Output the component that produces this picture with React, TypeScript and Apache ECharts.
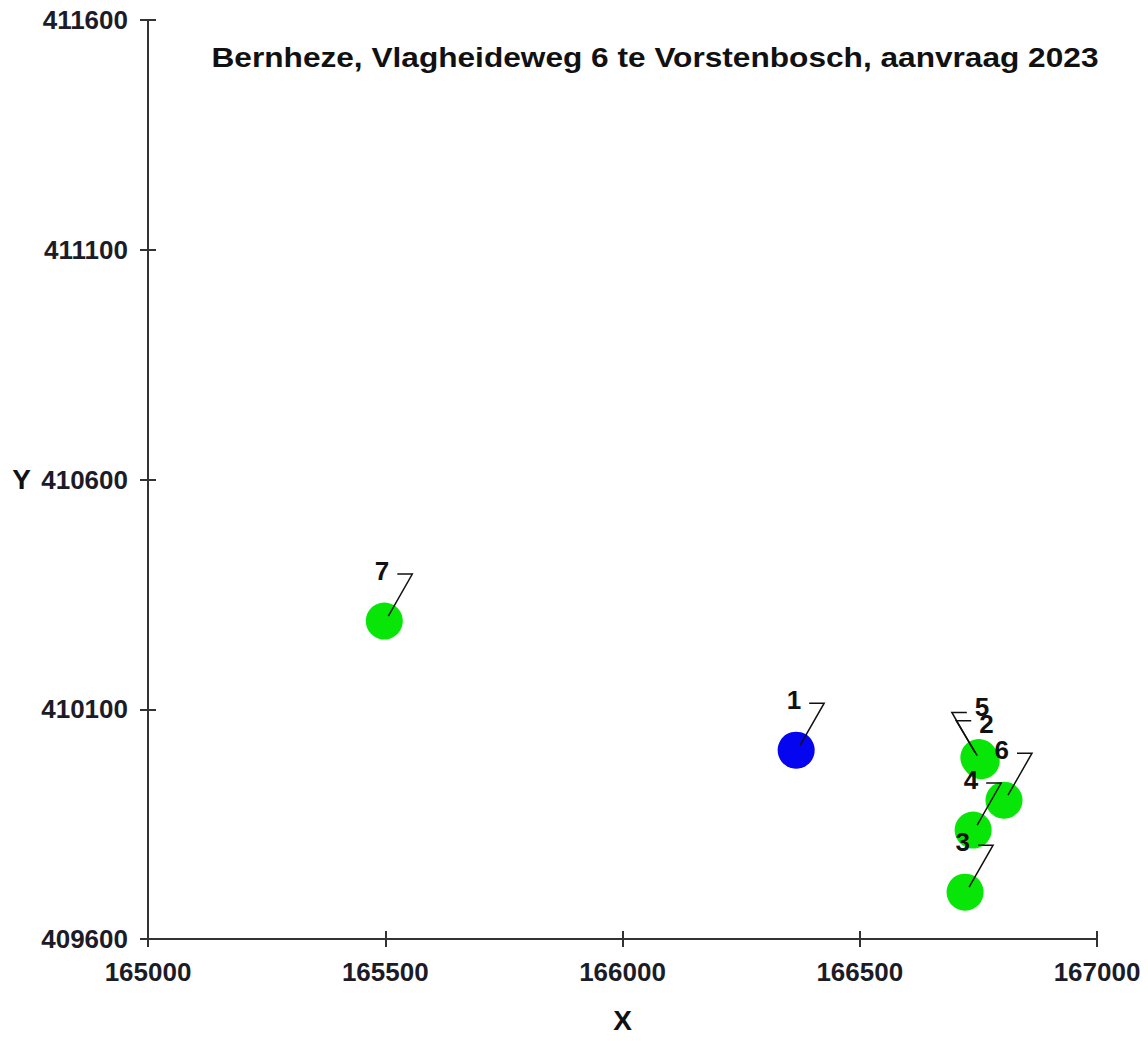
import React, { useEffect, useRef } from "react";
import * as echarts from "echarts";

const titleText = "Bernheze, Vlagheideweg 6 te Vorstenbosch, aanvraag 2023";
const pointIds = ["1", "2", "3", "4", "5", "6", "7"];
const xValues = [166366, 166756, 166722, 166739, 166751, 166804, 165498];
const yValues = [410011, 409988, 409702, 409837, 409995, 409902, 410292];
const isSource = [true, false, false, false, false, false, false];
const xMin = 165000;
const xMax = 167000;
const yMin = 409600;
const yMax = 411600;
const tickStep = 500;

const FONT = '"Liberation Sans", Arial, sans-serif';

// leader-line styling per label id: elbow dx/dy, horizontal segment end dx, label dy
const leaderStyle: Record<string, { ex: number; ey: number; hx: number; ly: number }> = {
  default: { ex: 28, ey: -47, hx: 13, ly: -50 },
  "5": { ex: -27, ey: -45, hx: -12, ly: -50 },
  "2": { ex: -25, ey: -40, hx: -10, ly: -37 },
};

export default function App() {
  const ref = useRef<HTMLDivElement>(null);
  useEffect(() => {
    document.body.style.margin = "0";
    const chart = echarts.init(ref.current!, null, { renderer: "svg" });
    const sourceData: number[][] = [];
    const receptorData: number[][] = [];
    const labelData: number[][] = [];
    pointIds.forEach((_, i) => {
      const p = [xValues[i], yValues[i]];
      if (isSource[i]) sourceData.push(p);
      else receptorData.push(p);
      labelData.push([xValues[i], yValues[i]]);
    });
    const axisLabelStyle = {
      fontFamily: FONT,
      fontWeight: "bold" as const,
      fontSize: 26,
      color: "#1c1c28",
      formatter: (v: number) => String(v),
    };
    const lineStyle = { color: "#333", width: 2 };
    chart.setOption({
      animation: false,
      backgroundColor: "#fff",
      grid: { left: 148, width: 949, top: 20, height: 919, containLabel: false },
      graphic: [
        {
          type: "text",
          x: 655,
          y: 57,
          scaleX: 1.13,
          scaleY: 1,
          originX: 0,
          style: {
            text: titleText,
            textAlign: "center",
            textVerticalAlign: "middle",
            font: `bold 28px ${FONT}`,
            fill: "#111",
          },
        },
      ],
      xAxis: [
        {
          type: "value",
          min: xMin,
          max: xMax,
          interval: tickStep,
          position: "bottom",
          name: "X",
          nameLocation: "middle",
          nameGap: 67,
          nameTextStyle: { fontFamily: FONT, fontWeight: "bold", fontSize: 28, color: "#111" },
          axisLine: { show: true, onZero: false, lineStyle },
          axisTick: { show: true, length: 8, inside: false, lineStyle },
          axisLabel: { ...axisLabelStyle, margin: 20 },
          splitLine: { show: false },
        },
        {
          type: "value",
          min: xMin,
          max: xMax,
          interval: tickStep,
          position: "bottom",
          offset: 0,
          axisLine: { show: false },
          axisTick: { show: true, length: 8, inside: true, lineStyle },
          axisLabel: { show: false },
          splitLine: { show: false },
        },
      ],
      yAxis: [
        {
          type: "value",
          min: yMin,
          max: yMax,
          interval: tickStep,
          position: "left",
          name: "Y",
          nameLocation: "middle",
          nameGap: 117,
          nameRotate: 0,
          nameTextStyle: { fontFamily: FONT, fontWeight: "bold", fontSize: 28, color: "#111" },
          axisLine: { show: true, onZero: false, lineStyle },
          axisTick: { show: true, length: 8, inside: false, lineStyle },
          axisLabel: { ...axisLabelStyle, margin: 20 },
          splitLine: { show: false },
        },
        {
          type: "value",
          min: yMin,
          max: yMax,
          interval: tickStep,
          position: "left",
          offset: 0,
          axisLine: { show: false },
          axisTick: { show: true, length: 8, inside: true, lineStyle },
          axisLabel: { show: false },
          splitLine: { show: false },
        },
      ],
      series: [
        {
          type: "scatter",
          data: receptorData,
          symbol: "circle",
          symbolSize: 37,
          itemStyle: { color: "#08e608", opacity: 1 },
          z: 2,
        },
        {
          type: "scatter",
          data: sourceData,
          symbol: "circle",
          symbolSize: 37,
          itemStyle: { color: "#0505f0", opacity: 1 },
          z: 2,
        },
        {
          type: "custom",
          data: labelData,
          encode: { x: 0, y: 1 },
          z: 5,
          renderItem: (params: any, api: any) => {
            const c = api.coord([api.value(0), api.value(1)]);
            const id = pointIds[params.dataIndex];
            const s = leaderStyle[id] || leaderStyle.default;
            const side = s.ex > 0 ? 1 : -1;
            return {
              type: "group",
              children: [
                {
                  type: "polyline",
                  shape: {
                    points: [
                      [c[0] + side * 4, c[1] - 5],
                      [c[0] + s.ex, c[1] + s.ey],
                      [c[0] + s.hx, c[1] + s.ey],
                    ],
                  },
                  style: { stroke: "#111", lineWidth: 1.5, fill: null },
                },
                {
                  type: "text",
                  x: c[0] + s.hx - side * 8,
                  y: c[1] + s.ly,
                  style: {
                    text: id,
                    textAlign: side > 0 ? "right" : "left",
                    textVerticalAlign: "middle",
                    font: `bold 26px ${FONT}`,
                    fill: "#111",
                  },
                },
              ],
            };
          },
        },
      ],
    });
    return () => chart.dispose();
  }, []);
  return <div ref={ref} style={{ width: 1148, height: 1041 }} />;
}
